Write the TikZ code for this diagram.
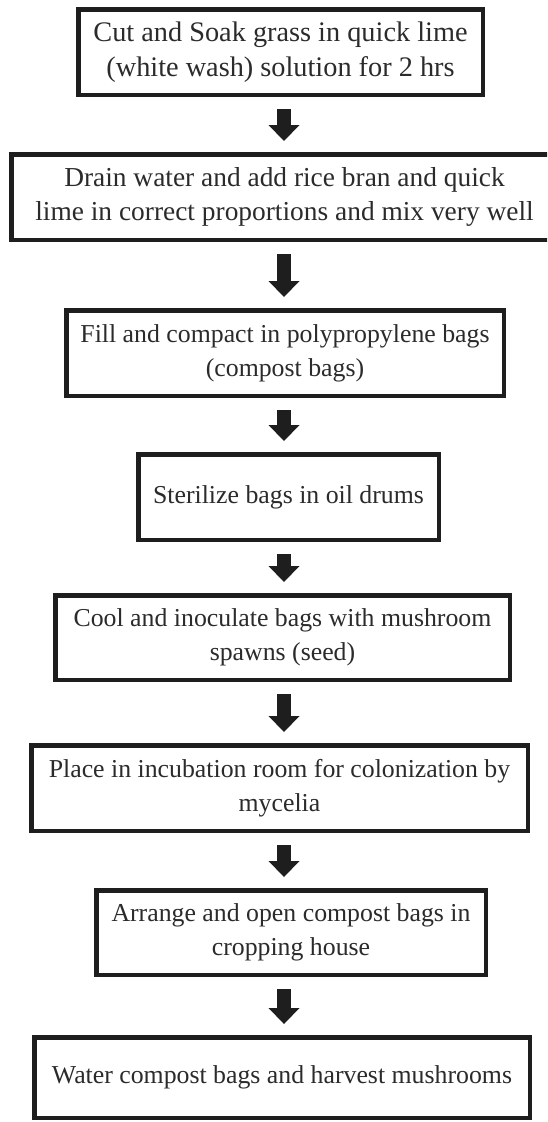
\documentclass[tikz,border=0pt]{standalone}
\usepackage{fontspec}
\setmainfont{Liberation Serif}
\usetikzlibrary{arrows.meta,calc}
\definecolor{ink}{HTML}{1E1E1E}
\definecolor{txt}{HTML}{2B2B2B}
\tikzset{
  box/.style={draw=ink, line width=4.5pt, rectangle, inner sep=0pt, align=center,
    text=txt, font=\fontsize{25.8}{34}\selectfont},
  flow/.style={draw=ink, line width=14pt, shorten <=12pt, shorten >=11pt,
    -{Triangle[width=31pt,length=16pt,line width=0pt]}},
}
\begin{document}
\begin{tikzpicture}[x=1pt,y=-1pt]
\clip (0,0) rectangle (547,1122);
\fill[white] (0,0) rectangle (547,1122);
\coordinate (ax) at (284,0);
\node[box, font=\fontsize{28.3}{35}\selectfont, minimum width=404.5, minimum height=85.5] (n1) at (280.5,52)
  {Cut and Soak grass in quick lime\\(white wash) solution for 2 hrs};
\node[box, font=\fontsize{27.4}{34}\selectfont, minimum width=546.5, minimum height=85.5] (n2) at (284.5,197)
  {Drain water and add rice bran and quick\\lime in correct proportions and mix very well};
\node[box, minimum width=437.5, minimum height=85.5] (n3) at (285,353)
  {Fill and compact in polypropylene bags\\(compost bags)};
\node[box, minimum width=300.5, minimum height=85.5] (n4) at (288.5,497)
  {Sterilize bags in oil drums};
\node[box, minimum width=454.5, minimum height=84.5] (n5) at (282.5,637.5)
  {Cool and inoculate bags with mushroom\\spawns (seed)};
\node[box, minimum width=496.5, minimum height=85.5] (n6) at (279.5,788)
  {Place in incubation room for colonization by\\mycelia};
\node[box, minimum width=389.5, minimum height=84.5] (n7) at (291,932.5)
  {Arrange and open compost bags in\\cropping house};
\node[box, minimum width=495.5, minimum height=80.5] (n8) at (282,1077.5)
  {Water compost bags and harvest mushrooms};
\foreach \a/\b in {n1/n2,n2/n3,n3/n4,n4/n5,n5/n6,n6/n7,n7/n8}
  \draw[flow] (\a.south -| ax) -- (\b.north -| ax);
\end{tikzpicture}
\end{document}
